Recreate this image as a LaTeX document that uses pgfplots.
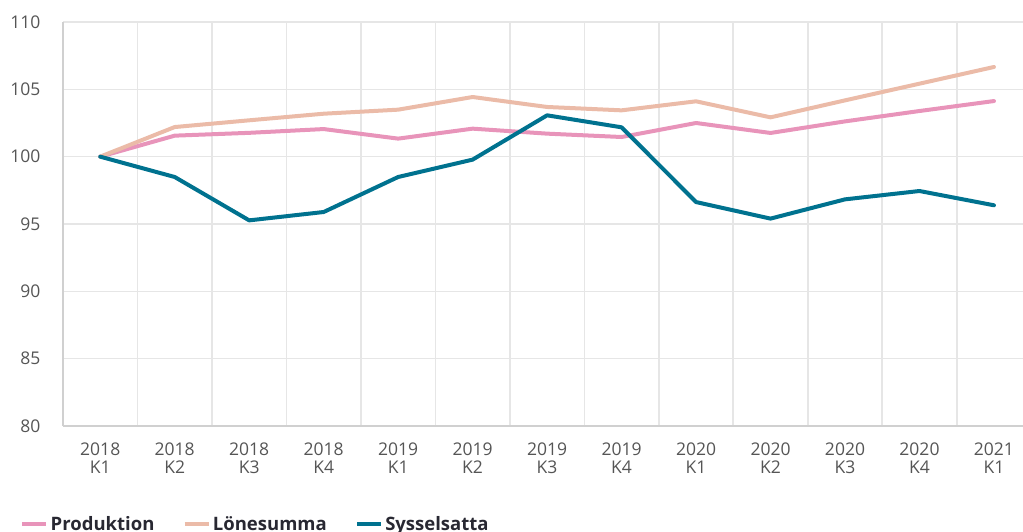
\documentclass[border=0pt]{standalone}
\usepackage{fontspec}
\setmainfont{Open Sans}
\usepackage{pgfplots}
\pgfplotsset{compat=1.18}
\definecolor{prod}{RGB}{232,148,186}
\definecolor{lone}{RGB}{235,187,168}
\definecolor{syss}{RGB}{0,114,143}
\definecolor{gridc}{RGB}{230,230,230}
\definecolor{axc}{RGB}{208,208,208}
\definecolor{tickc}{RGB}{85,85,85}
\definecolor{legc}{RGB}{40,40,50}
\begin{document}
\begin{tikzpicture}[x=1pt,y=1pt]
\path[use as bounding box] (0,0) rectangle (1023,531);
\begin{axis}[
  at={(63pt,105pt)}, anchor=south west,
  scale only axis, width=960pt, height=404pt,
  xmin=-0.5, xmax=12.39, ymin=80, ymax=110,
  axis x line=bottom, axis y line=left,
  axis line style={axc, line width=1.8pt, -},
  xtick={0,...,12},
  xticklabels={{2018\\K1},{2018\\K2},{2018\\K3},{2018\\K4},{2019\\K1},{2019\\K2},{2019\\K3},{2019\\K4},{2020\\K1},{2020\\K2},{2020\\K3},{2020\\K4},{2021\\K1}},
  minor xtick={0.5,1.5,2.5,3.5,4.5,5.5,6.5,7.5,8.5,9.5,10.5,11.5},
  ytick={80,85,...,110},
  ymajorgrids, xminorgrids,
  grid style={gridc, line width=1.6pt},
  major tick length=0pt, minor tick length=0pt,
  tick style={draw=none},
  /pgf/number format/assume math mode=true,
  xticklabel style={align=center, font=\fontsize{17.5}{18}\selectfont, text=tickc, yshift=-13pt},
  yticklabel style={font=\fontsize{17.5}{18}\selectfont, text=tickc, anchor=east, xshift=-19pt},
  legend style={at={(0,0)}, anchor=west, xshift=-46pt, yshift=-98pt, draw=none, fill=none,
    legend columns=3, font=\fontsize{18.5}{20}\selectfont\bfseries, text=legc,
    /tikz/every even column/.append style={column sep=26pt}},
  legend image code/.code={\draw[#1, line width=4.5pt, line cap=butt] (0pt,0pt) -- (24pt,0pt);},
]
\addplot[prod, no marks, line width=4pt, line join=round, line cap=round] coordinates {
(0,100) (1,101.56) (2,101.77) (3,102.05) (4,101.34) (5,102.08) (6,101.71) (7,101.46) (8,102.5) (9,101.76) (10,102.62) (11,103.39) (12,104.13)};
\addlegendentry{Produktion}
\addplot[lone, no marks, line width=4pt, line join=round, line cap=round] coordinates {
(0,100) (1,102.2) (2,102.7) (3,103.19) (4,103.49) (5,104.43) (6,103.69) (7,103.44) (8,104.11) (9,102.92) (10,104.18) (11,105.42) (12,106.66)};
\addlegendentry{Lönesumma}
\addplot[syss, no marks, line width=4pt, line join=round, line cap=round] coordinates {
(0,100) (1,98.49) (2,95.27) (3,95.89) (4,98.49) (5,99.78) (6,103.07) (7,102.18) (8,96.63) (9,95.4) (10,96.83) (11,97.45) (12,96.39)};
\addlegendentry{Sysselsatta}
\end{axis}
\end{tikzpicture}
\end{document}
